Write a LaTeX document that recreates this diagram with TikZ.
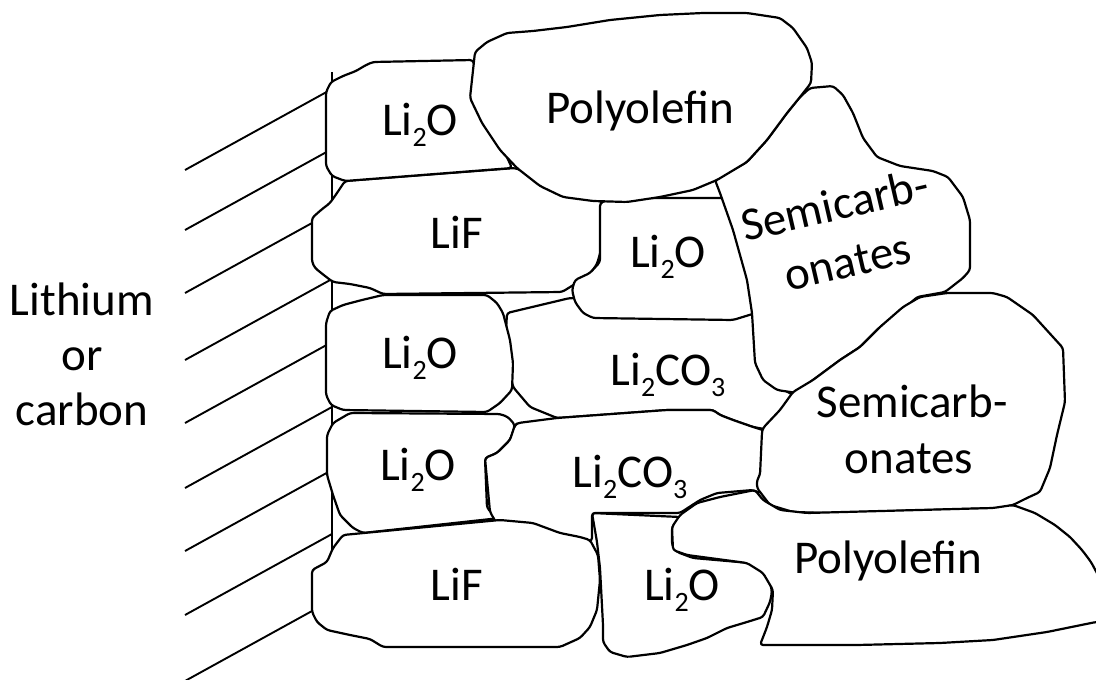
\documentclass[tikz,border=0pt]{standalone}
\usepackage{fontspec}
\setmainfont{Carlito}
\newcommand\subdig[1]{\raisebox{-11pt}{\fontsize{28}{28}\selectfont #1}}
\begin{document}
\begin{tikzpicture}[x=1pt,y=-1pt,
  grain/.style={draw=black, fill=white, line width=2.2pt, rounded corners=3pt, line join=round},
  hatchline/.style={line width=1.9pt},
  lbl/.style={font=\fontsize{47}{56}\selectfont, inner sep=0pt, anchor=base}]
\useasboundingbox (0,0) rectangle (1096,680);
\clip (0,0) rectangle (1096,680);

% substrate: hatching and its surface line
\foreach \y in {170,230,293,360,423,488,551,615,681}
  \draw[hatchline] (185,\y) -- ++(147,-81);
\draw[line width=1.2pt] (332,72) -- (332,600);

% LiF, upper row
\path[grain] (345,181) -- (515,168) -- (560,185) -- (601,200) -- (601,250) -- (597,264) -- (590,274) -- (575,284) -- (562,292) -- (383,294) -- (370,288) -- (350,284) -- (333,282) -- (325,276) -- (315,268) -- (312,262) -- (312,218) -- (321,210) -- (330,203) -- (337,193) -- cycle;
% Li2O, top row
\path[grain] (326,92) -- (331,82) -- (343,76) -- (356,71) -- (366,65) -- (373,62) -- (473,60) -- (485,110) -- (512,168) -- (345,181) -- (332,176) -- (326,166) -- cycle;
% Li2CO3, upper
\path[grain] (507,313) -- (570,298) -- (745,305) -- (760,313) -- (765,363) -- (775,385) -- (795,396) -- (785,410) -- (770,430) -- (753,427) -- (733,420) -- (720,415) -- (713,410) -- (667,410) -- (557,418) -- (530,407) -- (513,387) -- (505,350) -- cycle;
% Li2O, middle right
\path[grain] (600,203) -- (613,198) -- (726,198) -- (745,250) -- (759,312) -- (733,320) -- (593,318) -- (583,313) -- (575,302) -- (572,290) -- (575,280) -- (590,273) -- (600,262) -- cycle;
% semicarbonates, upper
\path[grain] (715,180) -- (747,162) -- (767,140) -- (787,113) -- (800,97) -- (810,88) -- (833,86) -- (843,95) -- (853,113) -- (863,138) -- (877,157) -- (900,166) -- (933,171) -- (948,177) -- (963,197) -- (970,220) -- (970,270) -- (963,278) -- (945,292) -- (917,297) -- (900,313) -- (880,327) -- (860,347) -- (840,360) -- (813,380) -- (797,393) -- (777,390) -- (763,380) -- (755,363) -- (752,313) -- (747,280) -- (733,230) -- (720,193) -- cycle;
% polyolefin, top
\path[grain] (475,52) -- (487,42) -- (507,33) -- (533,31) -- (567,27) -- (610,20) -- (660,15) -- (703,13) -- (747,13) -- (780,18) -- (793,28) -- (807,48) -- (812,63) -- (811,83) -- (800,97) -- (787,113) -- (767,140) -- (747,162) -- (717,180) -- (693,190) -- (660,197) -- (627,202) -- (593,201) -- (563,197) -- (540,186) -- (517,168) -- (500,150) -- (482,123) -- (470,98) -- cycle;
% Li2O, third row
\path[grain] (330,311) -- (343,305) -- (362,300) -- (383,295) -- (487,295) -- (497,303) -- (503,313) -- (510,340) -- (513,363) -- (512,390) -- (500,403) -- (487,412) -- (343,410) -- (331,405) -- (326,395) -- (326,323) -- cycle;
% Li2O, fourth row
\path[grain] (350,413) -- (500,414) -- (508,417) -- (515,425) -- (510,440) -- (497,453) -- (485,458) -- (487,508) -- (493,514) -- (500,518) -- (363,533) -- (353,528) -- (340,515) -- (333,495) -- (327,475) -- (327,435) -- (333,423) -- cycle;
% Li2CO3, lower
\path[grain] (518,423) -- (557,418) -- (667,410) -- (713,410) -- (720,415) -- (733,420) -- (753,427) -- (763,430) -- (776,440) -- (776,484) -- (760,493) -- (753,490) -- (717,493) -- (700,500) -- (680,513) -- (592,513) -- (592,541) -- (560,541) -- (533,531) -- (500,529) -- (490,512) -- (485,458) -- (497,453) -- (510,440) -- (515,425) -- cycle;
% semicarbonates, lower
\path[grain] (763,428) -- (780,410) -- (793,392) -- (813,380) -- (840,360) -- (860,347) -- (880,327) -- (903,307) -- (920,297) -- (947,293) -- (993,293) -- (1007,297) -- (1033,315) -- (1053,337) -- (1063,348) -- (1065,402) -- (1057,435) -- (1050,468) -- (1040,492) -- (1027,498) -- (1013,505) -- (1000,508) -- (827,513) -- (793,512) -- (770,505) -- (757,488) -- (757,480) -- (760,475) -- (762,432) -- cycle;
% LiF, bottom row
\path[grain] (343,535) -- (500,520) -- (533,523) -- (560,533) -- (580,537) -- (590,540) -- (598,555) -- (600,580) -- (597,610) -- (590,627) -- (580,638) -- (560,647) -- (383,647) -- (370,639) -- (350,635) -- (327,630) -- (317,622) -- (312,612) -- (312,570) -- (327,562) -- (333,548) -- cycle;
% Li2O, bottom right
\path[grain] (592,513) -- (680,517) -- (672,527) -- (672,545) -- (677,552) -- (693,558) -- (750,563) -- (763,572) -- (770,582) -- (772,592) -- (770,602) -- (763,617) -- (747,622) -- (727,628) -- (707,638) -- (687,645) -- (660,653) -- (627,657) -- (610,652) -- (603,642) -- (603,625) -- (600,568) -- (597,542) -- cycle;
% polyolefin, bottom
\path[grain] (680,515) -- (697,503) -- (720,497) -- (755,490) -- (763,500) -- (780,510) -- (807,513) -- (993,508) -- (1013,505) -- (1035,513) -- (1055,525) -- (1070,537) -- (1082,550) -- (1091,562) -- (1098,575) -- (1110,600) -- (1110,622) -- (1096,622) -- (1047,632) -- (993,640) -- (940,643) -- (857,645) -- (760,645) -- (767,627) -- (772,610) -- (773,590) -- (763,573) -- (747,563) -- (687,555) -- (673,550) -- (672,527) -- cycle;

% labels
\node[lbl] (lith) at (82,315) {Lithium};
\node[lbl] (or) at (82,370) {or};
\node[lbl] (carb) at (82,425) {carbon};

\node[lbl] (oxA) at (420,135) {Li\subdig{2}O};
\node[lbl] (polyA) at (640,123) {Polyolefin};
\node[lbl] (lifA) at (457,248) {LiF};
\node[lbl] (oxC) at (668,267) {Li\subdig{2}O};
\node[lbl, anchor=center, rotate=13, align=center, font=\fontsize{47}{58}\selectfont]
  (semA) at (841,233) {Semicarb-\\onates};
\node[lbl] (oxL) at (420,368) {Li\subdig{2}O};
\node[lbl] (carbD) at (668,385) {Li\subdig{2}CO\subdig{3}};
\node[lbl] (oxE) at (418,480) {Li\subdig{2}O};
\node[lbl] (carbF) at (630,487) {Li\subdig{2}CO\subdig{3}};
\node[lbl] (semB1) at (912,417) {Semicarb-};
\node[lbl] (semB2) at (909,473) {onates};
\node[lbl] (lifH) at (457,600) {LiF};
\node[lbl] (oxG) at (682,600) {Li\subdig{2}O};
\node[lbl] (polyB) at (888,573) {Polyolefin};
\end{tikzpicture}
\end{document}
